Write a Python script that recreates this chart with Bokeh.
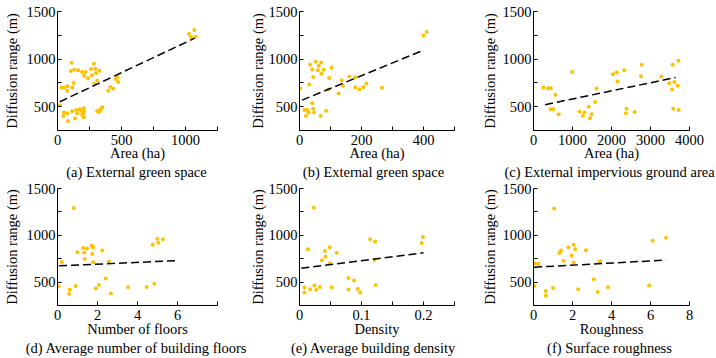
import numpy as np
from bokeh.plotting import figure
from bokeh.layouts import row, column
from bokeh.models import Range1d, FixedTicker
from bokeh.core.properties import value
from bokeh.embed import file_html
from bokeh.resources import INLINE

FONT = "Liberation Serif"
FS = "14.5px"
DOT = "#FFC000"

# ---- data ----
# (a) External green space
a_x = [18, 33, 56, 79, 77, 110, 105, 131, 126, 115, 162, 192, 220, 208, 238, 262, 285, 269, 297, 302, 328, 310, 287,
       51, 77, 46, 82, 115, 136, 146, 154, 174, 187, 205, 208, 200, 192, 205,
       310, 326, 338, 351, 331, 397, 413, 436, 454, 469, 474,
       1028, 1044, 1069, 1080]
a_y = [514, 701, 701, 715, 667, 962, 875, 889, 750, 701, 882, 865, 865, 826, 799, 896, 951, 830, 899, 854, 878, 774, 740,
       438, 431, 403, 351, 451, 375, 465, 431, 472, 458, 483, 451, 431, 413, 389,
       455, 444, 472, 493, 465, 667, 708, 691, 792, 812, 760,
       1264, 1229, 1306, 1236]
# (b) External green space
b_x = [2, 16, 26, 21, 29, 32, 34, 41, 44, 41, 44, 47, 53, 59, 62, 68, 70, 70, 78, 86, 96, 93, 103,
       126, 136, 140, 161, 179, 180, 194, 206, 216, 266, 400, 410]
b_y = [691, 465, 465, 403, 438, 733, 941, 892, 812, 535, 479, 438, 972, 882, 931, 403, 965, 847, 889, 458, 802, 681, 910,
       639, 778, 719, 816, 809, 701, 684, 708, 743, 698, 1247, 1285]
# (c) External impervious ground area
c_x = [257, 381, 439, 563, 439, 505, 646, 994, 1184, 1308, 1267, 1416, 1449, 1490, 1581, 1615, 2037, 2136, 2153,
       2327, 2385, 2368, 2592, 2757, 2774, 3279, 3478, 3552, 3569, 3610, 3585, 3693, 3718, 3726]
c_y = [701, 694, 694, 625, 472, 472, 420, 865, 448, 438, 403, 500, 378, 420, 549, 691, 840, 861, 764,
       882, 479, 431, 444, 819, 941, 816, 747, 681, 941, 760, 479, 722, 983, 465]
# (d) Average number of building floors
d_x = [0.05, 0.22, 0.61, 0.58, 0.81, 0.91, 1.00, 1.28, 1.34, 1.36, 1.48, 1.71, 1.78, 1.74, 1.79, 1.91, 2.07,
       2.24, 2.41, 2.57, 2.67, 3.53, 4.46, 4.76, 4.84, 4.99, 5.04, 5.28]
d_y = [455, 715, 420, 372, 1292, 458, 819, 865, 816, 747, 858, 889, 872, 799, 712, 431, 469,
       837, 538, 719, 379, 444, 448, 899, 483, 962, 920, 958]
# (e) Average building density
e_x = [0.008, 0.008, 0.0135, 0.017, 0.023, 0.024, 0.027, 0.033, 0.036, 0.041, 0.042, 0.049, 0.049, 0.052, 0.060,
       0.079, 0.079, 0.088, 0.094, 0.098, 0.114, 0.122, 0.121, 0.123, 0.197, 0.199]
e_y = [441, 389, 851, 424, 1295, 465, 417, 448, 733, 833, 771, 872, 701, 441, 813,
       545, 420, 517, 427, 389, 958, 934, 736, 469, 917, 983]
# (f) Surface roughness
f_x = [0.05, 0.08, 0.25, 0.63, 0.63, 1.0, 1.06, 1.33, 1.41, 1.54, 1.79, 1.96, 2.06, 2.06, 2.14, 2.29, 2.69,
       3.09, 3.29, 3.37, 3.42, 3.82, 5.93, 6.11, 6.80]
f_y = [458, 700, 693, 405, 353, 437, 1286, 812, 837, 728, 872, 784, 900, 710, 851, 423, 840,
       531, 395, 714, 724, 444, 465, 942, 974]

# trend lines: (slope, intercept) and x span
trend_a, span_a = (0.633, 541), [18, 1072]
trend_b, span_b = (1.34, 558), [8, 402]
trend_c, span_c = (0.0852, 496), [298, 3643]
trend_d, span_d = (9.4, 673), [0.08, 5.92]
trend_e, span_e = (834, 646), [0.003, 0.2]
trend_f, span_f = (11.4, 658), [0.03, 6.8]

x_labels = ["Area (ha)", "Area (ha)", "Area (ha)", "Number of floors", "Density", "Roughness"]
captions_top = ["(a) External green space", "(b) External green space", "(c) External impervious ground area"]
captions_bottom = ["(d) Average number of building floors", "(e) Average building density", "(f) Surface roughness"]
y_label = "Diffusion range (m)"
y_major = [500, 1000, 1500]
y_minor = [750, 1250]

# layout (pixels)
W = [246, 232, 238]          # column widths
BL = [55, 46, 51]            # left borders (frame starts)
FW = [162, 162, 160]         # frame widths
YLS = [4, 0, 2]              # y-axis label standoffs
H1, H2 = 163, 159            # panel row heights
S1, S2 = 17, 19              # caption strip heights


def style_axis(ax):
    ax.axis_line_color = "black"
    ax.axis_line_width = 1
    ax.major_tick_line_color = "black"
    ax.minor_tick_line_color = "black"
    ax.major_tick_in = 4
    ax.major_tick_out = 0
    ax.minor_tick_in = 4
    ax.minor_tick_out = 0
    ax.major_label_text_font = FONT
    ax.major_label_text_font_size = FS
    ax.major_label_text_color = "black"
    ax.axis_label_text_font = FONT
    ax.axis_label_text_font_size = FS
    ax.axis_label_text_font_style = "normal"
    ax.axis_label_text_color = "black"


def panel(col, xs, ys, xr, xmaj, xmin, xlabel, trend, span, height, bt, xlab_standoff, overrides=None):
    br = W[col] - BL[col] - FW[col]
    p = figure(width=W[col], height=height, x_range=Range1d(*xr), y_range=Range1d(250, 1500),
               output_backend="svg", toolbar_location=None,
               min_border_left=BL[col], min_border_right=br, min_border_top=bt, min_border_bottom=32)
    p.grid.visible = False
    p.outline_line_color = None
    p.scatter(xs, ys, size=4, fill_color=DOT, line_color=None)
    sx = np.array(span, dtype=float)
    p.line(sx, trend[0] * sx + trend[1], line_color="black", line_width=1.5, line_dash="8 4")
    style_axis(p.xaxis[0])
    style_axis(p.yaxis[0])
    p.xaxis.ticker = FixedTicker(ticks=xmaj, minor_ticks=xmin)
    p.yaxis.ticker = FixedTicker(ticks=y_major, minor_ticks=y_minor)
    p.xaxis.axis_label = xlabel
    p.yaxis.axis_label = y_label
    p.xaxis.major_label_standoff = 4
    p.xaxis.axis_label_standoff = xlab_standoff
    p.yaxis.major_label_standoff = 2
    p.yaxis.axis_label_standoff = YLS[col]
    if overrides:
        p.xaxis.major_label_overrides = overrides
    return p


def caption_strip(texts, height, mid_y):
    total = sum(W)
    s = figure(width=total, height=height, x_range=Range1d(0, total), y_range=Range1d(0, height),
               output_backend="svg", toolbar_location=None, x_axis_type=None, y_axis_type=None,
               min_border_left=0, min_border_right=0, min_border_top=0, min_border_bottom=0)
    s.grid.visible = False
    s.outline_line_color = None
    centers = []
    left = 0
    for i in range(3):
        centers.append(left + BL[i] + FW[i] / 2)
        left += W[i]
    s.text(x=centers, y=[mid_y] * 3, text=texts, text_align="center", text_baseline="middle",
           text_font=value(FONT), text_font_size=value(FS), text_color="black")
    return s


pa = panel(0, a_x, a_y, (0, 1250), [0, 500, 1000], [250, 750, 1250], x_labels[0], trend_a, span_a, H1, 11, -3)
pb = panel(1, b_x, b_y, (0, 500), [0, 200, 400], [100, 300, 500], x_labels[1], trend_b, span_b, H1, 11, -3)
pc = panel(2, c_x, c_y, (0, 4000), [0, 1000, 2000, 3000, 4000], [], x_labels[2], trend_c, span_c, H1, 11, -3)
pd_ = panel(0, d_x, d_y, (0, 8), [0, 2, 4, 6], [8], x_labels[3], trend_d, span_d, H2, 8, -2)
pe = panel(1, e_x, e_y, (0, 0.25), [0, 0.1, 0.2], [0.05, 0.15, 0.25], x_labels[4], trend_e, span_e, H2, 8, -2,
           overrides={0: "0"})
pf = panel(2, f_x, f_y, (0, 8), [0, 2, 4, 6, 8], [], x_labels[5], trend_f, span_f, H2, 8, -2)

cap1 = caption_strip(captions_top, S1, 9)
cap2 = caption_strip(captions_bottom, S2, 11)

layout = column(row(pa, pb, pc), cap1, row(pd_, pe, pf), cap2)

open("out.html", "w").write(file_html(layout, INLINE))
